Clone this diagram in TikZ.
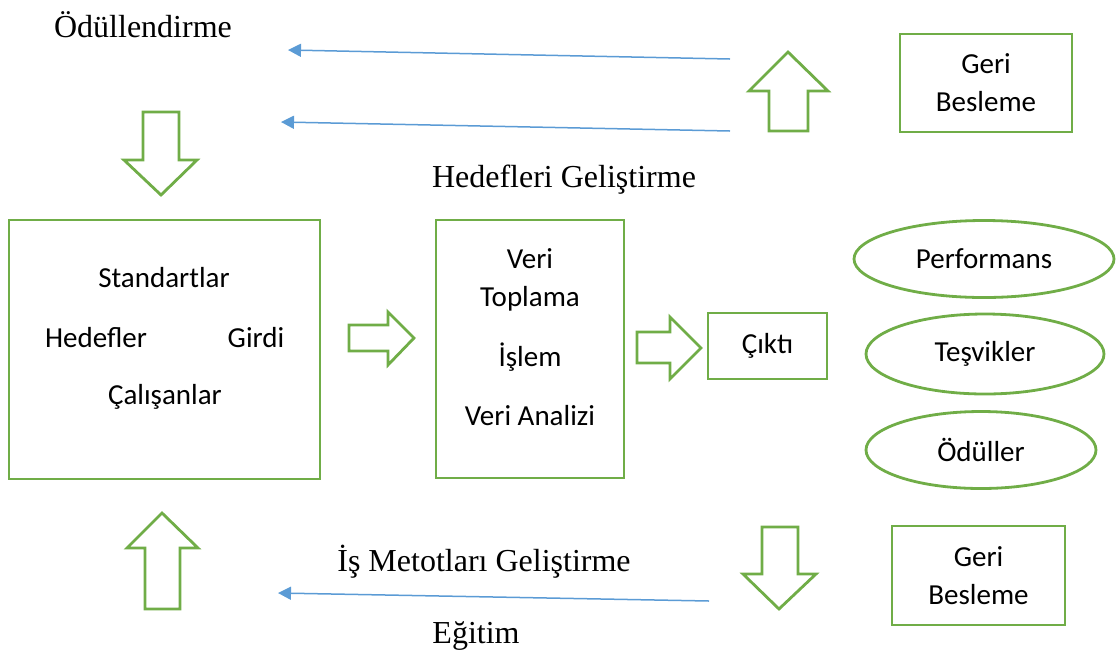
\documentclass[tikz,border=0pt]{standalone}
\usepackage{fontspec}
\setmainfont{Liberation Serif}
\newfontfamily\calibri{Carlito}
\usetikzlibrary{arrows.meta, shapes.geometric}

\definecolor{boxgreen}{HTML}{70AD47}
\definecolor{linkblue}{HTML}{5B9BD5}

\begin{document}
\begin{tikzpicture}[
    x=1pt, y=-1pt,
    every node/.style={inner sep=0pt},
    box/.style={rectangle, draw=boxgreen, line width=2.8pt, align=center, font=\calibri\fontsize{29}{38}\selectfont},
    oval/.style={ellipse, draw=boxgreen, line width=2.8pt, font=\calibri\fontsize{29}{35}\selectfont},
    txt/.style={font=\calibri\fontsize{29}{35}\selectfont},
    caption/.style={font=\fontsize{32}{38}\selectfont},
    blockarrow/.style={draw=boxgreen, line width=2.8pt, fill=white, line join=miter},
    feedback/.style={-{Triangle[length=13pt, width=13pt]}, draw=linkblue, line width=1.5pt}
]
\useasboundingbox (0,0) rectangle (1116,657);

% main boxes
\node[box, minimum width=311, minimum height=259] (input) at (164.5,349.5) {};
\node[txt] (std) at (164,278) {Standartlar};
\node[txt] (goals) at (96,338) {Hedefler};
\node[txt] (in) at (256,338) {Girdi};
\node[txt] (staff) at (165,397) {Çalışanlar};

\node[box, minimum width=188, minimum height=258] (process) at (530,349) {};
\node[txt] (data) at (530,259) {Veri};
\node[txt] (collect) at (530,299) {Toplama};
\node[txt] (work) at (530,357) {İşlem};
\node[txt] (analysis) at (530,416) {Veri Analizi};

\node[box, minimum width=119, minimum height=66] (output) at (767.5,346) {Çıktı};

\node[box, minimum width=172, minimum height=98] (fbtop) at (986,83) {Geri\\Besleme};
\node[box, minimum width=173, minimum height=99] (fbbot) at (978.5,575.5) {Geri\\Besleme};

% ellipses
\node[oval, minimum width=260, minimum height=77] (perf) at (984,259) {Performans};
\node[oval, minimum width=238, minimum height=80] (incent) at (985,354) {Teşvikler};
\node[oval, minimum width=230, minimum height=77] (reward) at (981,450) {Ödüller};

% captions
\node[caption] (rewarding) at (143,25) {Ödüllendirme};
\node[caption] (goaldev) at (564,180) {Hedefleri Geliştirme};
\node[caption] (methods) at (484,562) {İş Metotları Geliştirme};
\node[caption] (training) at (476,636) {Eğitim};

% block arrows
\draw[blockarrow] (143,112) -- (179,112) -- (179,160) -- (197,160) -- (161,195) -- (124,160) -- (143,160) -- cycle;
\draw[blockarrow] (349,325) -- (388,325) -- (388,312) -- (414,338) -- (388,365) -- (388,351) -- (349,351) -- cycle;
\draw[blockarrow] (637,332) -- (670,332) -- (670,317) -- (701,348) -- (670,379) -- (670,363) -- (637,363) -- cycle;
\draw[blockarrow] (769,131) -- (769,91) -- (749,91) -- (788,52) -- (828,91) -- (808,91) -- (808,131) -- cycle;
\draw[blockarrow] (762,527) -- (798,527) -- (798,574) -- (816,574) -- (779,609) -- (743,574) -- (762,574) -- cycle;
\draw[blockarrow] (145,609) -- (145,548) -- (127,548) -- (162,513) -- (198,548) -- (180,548) -- (180,609) -- cycle;

% feedback lines
\coordinate (r1) at (730,59);
\coordinate (l1) at (288,50);
\coordinate (r2) at (730,131);
\coordinate (l2) at (281,122);
\coordinate (r3) at (709,601);
\coordinate (l3) at (278,593);
\foreach \src/\dst in {r1/l1, r2/l2, r3/l3} {
    \draw[feedback] (\src) -- (\dst);
}

\end{tikzpicture}
\end{document}
